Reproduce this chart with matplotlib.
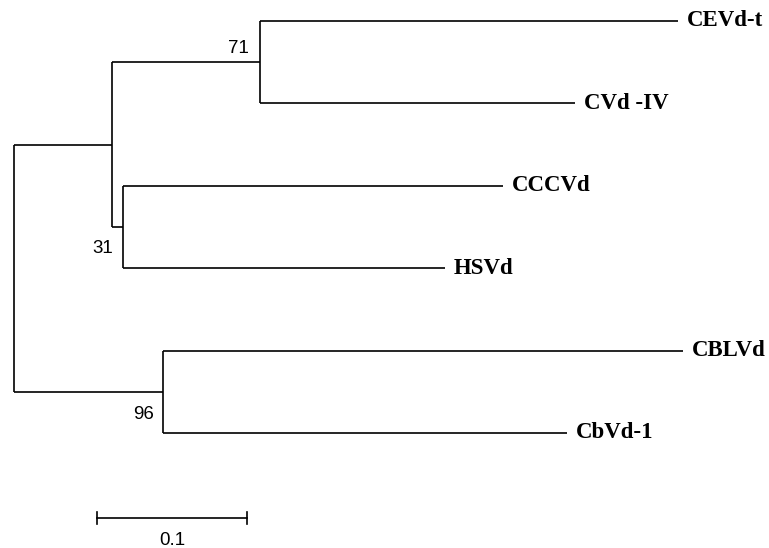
import matplotlib
matplotlib.use("Agg")
import matplotlib.pyplot as plt

# tree (branch lengths in substitutions/site), leaves top -> bottom
leaves = ["CEVd-t", "CVd-IV", "CCCVd", "HSVd", "CBLVd", "CbVd-1"]
leaf_labels = ["CEVd-t", "CVd -IV", "CCCVd", "HSVd", "CBLVd", "CbVd-1"]
# node: (parent, branch length)
parents = {
    "A": ("root", 0.0653),
    "n71": ("A", 0.0987),
    "CEVd-t": ("n71", 0.2787),
    "CVd-IV": ("n71", 0.2100),
    "n31": ("A", 0.0073),
    "CCCVd": ("n31", 0.2533),
    "HSVd": ("n31", 0.2147),
    "n96": ("root", 0.0993),
    "CBLVd": ("n96", 0.3467),
    "CbVd-1": ("n96", 0.2693),
}
bootstrap = {"n71": "71", "n31": "31", "n96": "96"}
scale_len = 0.1

children = {}
for n, (p, _) in parents.items():
    children.setdefault(p, []).append(n)

xpos = {"root": 0.0}
def set_x(n):
    for c in children.get(n, []):
        xpos[c] = xpos[n] + parents[c][1]
        set_x(c)
set_x("root")

ypos = {name: i for i, name in enumerate(leaves)}
def set_y(n):
    if n in ypos:
        return ypos[n]
    ys = [set_y(c) for c in children[n]]
    ypos[n] = (min(ys) + max(ys)) / 2
    return ypos[n]
set_y("root")

fig = plt.figure(figsize=(7.69, 5.48), dpi=100)
ax = fig.add_axes([0, 0, 1, 1])
lw = 1.2

for n, (p, _) in parents.items():
    ax.plot([xpos[p], xpos[n]], [ypos[n], ypos[n]], color="black", lw=lw,
            solid_capstyle="butt")
for n, ch in children.items():
    ys = [ypos[c] for c in ch]
    ax.plot([xpos[n], xpos[n]], [min(ys), max(ys)], color="black", lw=lw,
            solid_capstyle="butt")

for name, lab in zip(leaves, leaf_labels):
    ax.text(xpos[name] + 0.0058, ypos[name], lab, fontsize=16.5,
            fontweight="bold", family="Liberation Serif", ha="left", va="center")

# bootstrap values
ax.text(xpos["n71"] - 0.0075, ypos["n71"] - 0.17, bootstrap["n71"],
        fontsize=13.5, family="Liberation Sans", ha="right", va="center")
ax.text(xpos["n31"] - 0.0065, ypos["HSVd"] - 0.24, bootstrap["n31"],
        fontsize=13.5, family="Liberation Sans", ha="right", va="center")
ax.text(xpos["n96"] - 0.006, ypos["CbVd-1"] - 0.23, bootstrap["n96"],
        fontsize=13.5, family="Liberation Sans", ha="right", va="center")

# scale bar
sx0 = 0.0553
sy = 6.03
ax.plot([sx0, sx0 + scale_len], [sy, sy], color="black", lw=lw)
ax.plot([sx0, sx0], [sy - 0.07, sy + 0.07], color="black", lw=lw)
ax.plot([sx0 + scale_len, sx0 + scale_len], [sy - 0.07, sy + 0.07], color="black", lw=lw)
ax.text(sx0 + scale_len / 2, sy + 0.27, str(scale_len), fontsize=13.5,
        family="Liberation Sans", ha="center", va="center")

ax.set_xlim(-14 / 1500, (769 - 14) / 1500)
ax.set_ylim((548 - 21) / 82.4, -21 / 82.4)
ax.axis("off")

fig.savefig("out.png", dpi=100)
